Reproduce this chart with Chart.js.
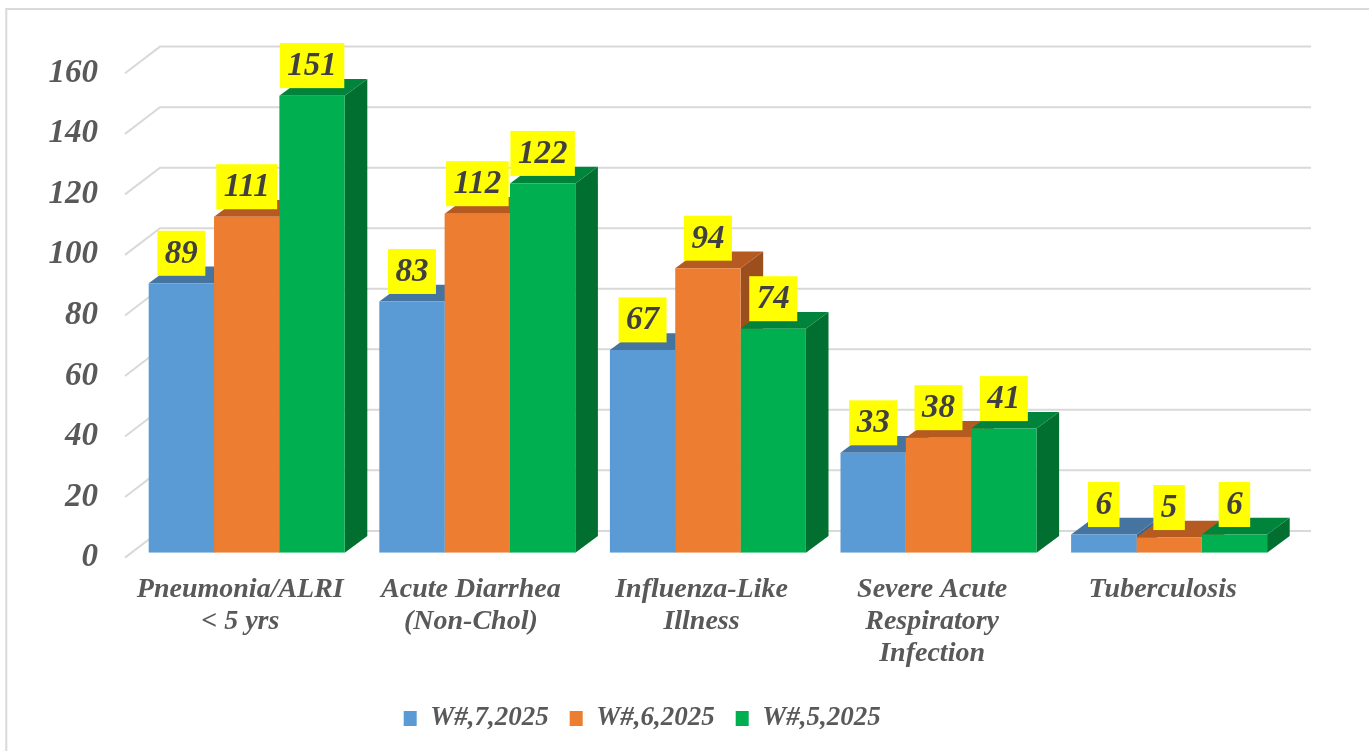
<!DOCTYPE html>
<html><head><meta charset="utf-8">
<script src="https://cdn.jsdelivr.net/npm/chart.js@4/dist/chart.umd.min.js"></script>
<style>html,body{margin:0;padding:0;background:#fff;overflow:hidden}#wrap{width:1369px;height:751px;position:relative}</style>
</head><body><div id="wrap"><canvas id="c" width="1369" height="751"></canvas></div>
<script>
const categories = [['Pneumonia/ALRI','< 5 yrs'],['Acute Diarrhea','(Non-Chol)'],['Influenza-Like','Illness'],['Severe Acute','Respiratory','Infection'],['Tuberculosis']];
const seriesNames = ['W#,7,2025','W#,6,2025','W#,5,2025'];
const w7 = [89, 83, 67, 33, 6];
const w6 = [111, 112, 94, 38, 5];
const w5 = [151, 122, 74, 41, 6];
const yTicks = [0, 20, 40, 60, 80, 100, 120, 140, 160];

const FONT = '"Liberation Serif","Times New Roman",serif';
const frontCol = ['#5B9BD5', '#ED7D31', '#00B050'];
const topCol = ['#4674A1', '#B55B22', '#00843C'];
const sideCol = ['#3C6790', '#9C4E1C', '#006F2F'];
// 3D geometry (pixels)
const FX = -6.4, FY = 4.9;     // front floor edge relative to bar front plane
const BX = 28.6, BY = -21.8;   // back wall relative to bar front plane
const DX = 22.6, DY = -16.7;   // bar depth

const threeD = {
  id: 'threeD',
  beforeDraw(chart) {
    const ctx = chart.ctx;
    ctx.save();
    ctx.strokeStyle = '#d9d9d9';
    ctx.lineWidth = 2;
    ctx.strokeRect(6.3, 9, 1420, 800);
    ctx.restore();
  },
  beforeDatasetsDraw(chart) {
    const {ctx, chartArea: a, scales: {y}} = chart;
    ctx.save();
    ctx.strokeStyle = '#d9d9d9';
    ctx.lineWidth = 2;
    yTicks.forEach(v => {
      const py = y.getPixelForValue(v);
      ctx.beginPath();
      ctx.moveTo(a.left + FX, py + FY);
      ctx.lineTo(a.left + BX, py + BY);
      ctx.lineTo(a.right + 26.6, py + BY);
      ctx.stroke();
    });
    const n = categories.length;
    for (let i = 0; i < n; i++) {
      chart.data.datasets.forEach((ds, d) => {
        const el = chart.getDatasetMeta(d).data[i];
        const L = el.x - el.width / 2, R = el.x + el.width / 2, T = el.y, B = el.base;
        ctx.fillStyle = sideCol[d];
        ctx.beginPath();
        ctx.moveTo(R, T); ctx.lineTo(R + DX, T + DY); ctx.lineTo(R + DX, B + DY); ctx.lineTo(R, B);
        ctx.closePath(); ctx.fill();
        ctx.fillStyle = topCol[d];
        ctx.beginPath();
        ctx.moveTo(L, T); ctx.lineTo(L + DX, T + DY); ctx.lineTo(R + DX, T + DY); ctx.lineTo(R, T);
        ctx.closePath(); ctx.fill();
      });
    }
    ctx.restore();
  },
  afterDatasetsDraw(chart) {
    const ctx = chart.ctx;
    ctx.save();
    ctx.font = 'italic bold 33px ' + FONT;
    ctx.textAlign = 'center';
    ctx.textBaseline = 'middle';
    chart.data.datasets.forEach((ds, d) => {
      chart.getDatasetMeta(d).data.forEach((el, i) => {
        const txt = String(ds.data[i]);
        const tw = ctx.measureText(txt).width;
        const bw = tw + 15, bh = 45;
        const bx = el.x - bw / 2, by = el.y - 7.5 - bh;
        ctx.fillStyle = '#FFFF00';
        ctx.fillRect(bx, by, bw, bh);
        ctx.fillStyle = '#404040';
        ctx.fillText(txt, el.x, by + bh / 2 + 1);
      });
    });
    ctx.restore();
  }
};

const seriesData = [w7, w6, w5];
new Chart(document.getElementById('c'), {
  type: 'bar',
  data: {
    labels: categories,
    datasets: seriesNames.map((name, d) => ({
      label: name,
      data: seriesData[d],
      backgroundColor: frontCol[d],
      borderWidth: 0,
      barPercentage: 1,
      categoryPercentage: 0.85
    }))
  },
  options: {
    responsive: false,
    animation: false,
    devicePixelRatio: 1,
    layout: {padding: {top: 68.4, right: 84.6, left: 0, bottom: 9}},
    plugins: {
      tooltip: {enabled: false},
      legend: {
        position: 'bottom',
        labels: {
          color: '#595959',
          font: {family: FONT, size: 27, style: 'italic', weight: 'bold'},
          boxWidth: 13, boxHeight: 15, padding: 21
        }
      }
    },
    scales: {
      x: {
        grid: {display: false, drawTicks: false},
        border: {display: false},
        ticks: {
          color: '#595959',
          font: {family: FONT, size: 28, style: 'italic', weight: 'bold', lineHeight: 32 / 28},
          padding: 21,
          labelOffset: -6.4,
          maxRotation: 0, minRotation: 0, autoSkip: false
        },
        afterFit(s) { s.height = 131.3; }
      },
      y: {
        min: 0, max: 160,
        grid: {display: false, drawTicks: false},
        border: {display: false},
        afterBuildTicks(s) { s.ticks = yTicks.map(v => ({value: v})); },
        ticks: {
          color: '#595959',
          font: {family: FONT, size: 33, style: 'italic', weight: 'bold'},
          padding: 33.4,
          labelOffset: 4.9
        },
        afterFit(s) { s.width = 131.4; }
      }
    }
  },
  plugins: [threeD]
});
</script></body></html>
